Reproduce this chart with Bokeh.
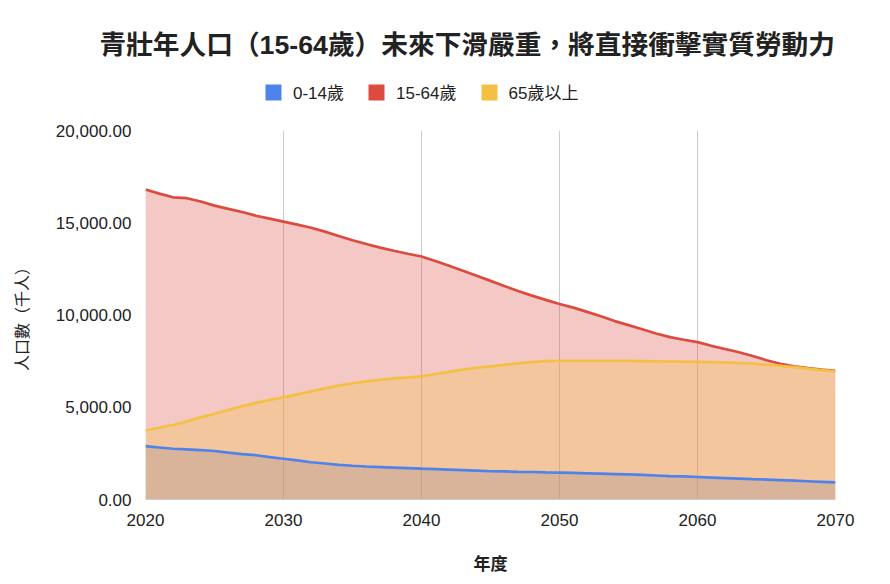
from bokeh.plotting import figure
from bokeh.layouts import column
from bokeh.models import (Legend, LegendItem, NumeralTickFormatter,
                          FixedTicker, Range1d)
from bokeh.embed import file_html
from bokeh.resources import INLINE

years = list(range(2020, 2071))

# 0-14歲 (千人)
age_0_14 = [2890, 2820, 2750, 2720, 2680, 2630, 2540, 2460, 2400, 2300,
            2210, 2120, 2020, 1950, 1880, 1830, 1790, 1760, 1730, 1700,
            1670, 1650, 1620, 1590, 1560, 1530, 1520, 1500, 1490, 1470,
            1460, 1440, 1420, 1400, 1380, 1360, 1330, 1300, 1270, 1250,
            1220, 1190, 1160, 1130, 1100, 1080, 1050, 1020, 990, 960, 930]

# 15-64歲 (千人)
age_15_64 = [16800, 16580, 16380, 16330, 16150, 15930, 15750, 15580, 15380, 15220,
             15060, 14900, 14730, 14520, 14280, 14050, 13850, 13650, 13480, 13320,
             13170, 12930, 12670, 12400, 12130, 11850, 11570, 11300, 11050, 10820,
             10600, 10400, 10170, 9930, 9670, 9450, 9230, 9000, 8800, 8660,
             8530, 8330, 8160, 7980, 7780, 7550, 7360, 7220, 7120, 7040, 6970]

# 65歲以上 (千人)
age_65_plus = [3740, 3890, 4040, 4240, 4450, 4650, 4850, 5060, 5240, 5400,
               5540, 5700, 5860, 6020, 6170, 6300, 6400, 6490, 6560, 6620,
               6670, 6800, 6920, 7040, 7140, 7220, 7300, 7380, 7450, 7500,
               7510, 7510, 7510, 7510, 7510, 7510, 7500, 7490, 7480, 7470,
               7460, 7450, 7430, 7400, 7360, 7310, 7250, 7170, 7090, 7010, 6940]

series_names = ["0-14歲", "15-64歲", "65歲以上"]
series_values = [age_0_14, age_15_64, age_65_plus]
colors = ["#4f83ec", "#dc4b3e", "#f4c043"]

x_ticks = [2020, 2030, 2040, 2050, 2060, 2070]
y_ticks = [0, 5000, 10000, 15000, 20000]

title_text = "青壯年人口（15-64歲）未來下滑嚴重，將直接衝擊實質勞動力"
x_label = "年度"
y_label = "人口數（千人）"

FONT = "'Liberation Sans', Arial, 'Noto Sans CJK TC', sans-serif"

# ---- header: title + legend ----
head = figure(width=874, height=120, output_backend="svg", toolbar_location=None,
              x_range=Range1d(0, 1), y_range=Range1d(0, 1),
              x_axis_type=None, y_axis_type=None,
              min_border_left=145, min_border_right=39,
              min_border_top=59, min_border_bottom=0,
              title=title_text)
head.outline_line_color = None
head.xgrid.visible = False
head.ygrid.visible = False
head.title.align = "left"
head.title.offset = -46
head.title.text_font = FONT
head.title.text_font_size = "26.7px"
head.title.text_font_style = "bold"
head.title.text_color = "#222222"
head.title.standoff = 0

items = []
for name, c in zip(series_names, colors):
    r = head.quad(left=[0], right=[0], bottom=[0], top=[0],
                  fill_color=c, line_color=None)
    items.append(LegendItem(label=name, renderers=[r]))
legend = Legend(items=items, orientation="horizontal", location=(118, 16),
                glyph_width=20, glyph_height=20, label_standoff=10, spacing=22,
                padding=0, margin=0, border_line_color=None,
                background_fill_alpha=0, label_text_font=FONT,
                label_text_font_size="17px", label_text_color="#222222")
head.add_layout(legend, "center")

# ---- main chart ----
p = figure(width=874, height=456, output_backend="svg", toolbar_location=None,
           x_range=Range1d(2020, 2070), y_range=Range1d(0, 20000),
           min_border_left=145, min_border_right=39,
           min_border_top=10, min_border_bottom=75)
p.outline_line_color = None
p.background_fill_color = "white"

for vals, c in zip(series_values, colors):
    p.varea(x=years, y1=0, y2=vals, fill_color=c, fill_alpha=0.3)
for vals, c in zip(series_values, colors):
    p.line(x=years, y=vals, line_color=c, line_width=2.7)

p.xaxis.ticker = FixedTicker(ticks=x_ticks)
p.yaxis.ticker = FixedTicker(ticks=y_ticks)
p.yaxis.formatter = NumeralTickFormatter(format="0,0.00")
for ax in (p.xaxis, p.yaxis):
    ax.major_tick_line_color = None
    ax.minor_tick_line_color = None
    ax.major_label_text_font = FONT
    ax.major_label_text_font_size = "17px"
    ax.major_label_text_color = "#222222"
    ax.axis_label_text_font = FONT
    ax.axis_label_text_color = "#222222"
p.yaxis.axis_line_color = None
p.xaxis.axis_line_color = "#cccccc"
p.yaxis.major_label_standoff = 8
p.xaxis.major_label_standoff = 8

p.xaxis.axis_label = x_label
p.xaxis.axis_label_text_font_size = "17px"
p.xaxis.axis_label_text_font_style = "bold"
p.xaxis.axis_label_standoff = 26

p.yaxis.axis_label = y_label
p.yaxis.axis_label_text_font_size = "16px"
p.yaxis.axis_label_text_font_style = "normal"
p.yaxis.axis_label_standoff = 22

p.ygrid.grid_line_color = None
p.xgrid.grid_line_color = "#cccccc"
p.xgrid.grid_line_width = 1

layout = column(head, p, spacing=0)
open("out.html", "w").write(file_html(layout, INLINE))
